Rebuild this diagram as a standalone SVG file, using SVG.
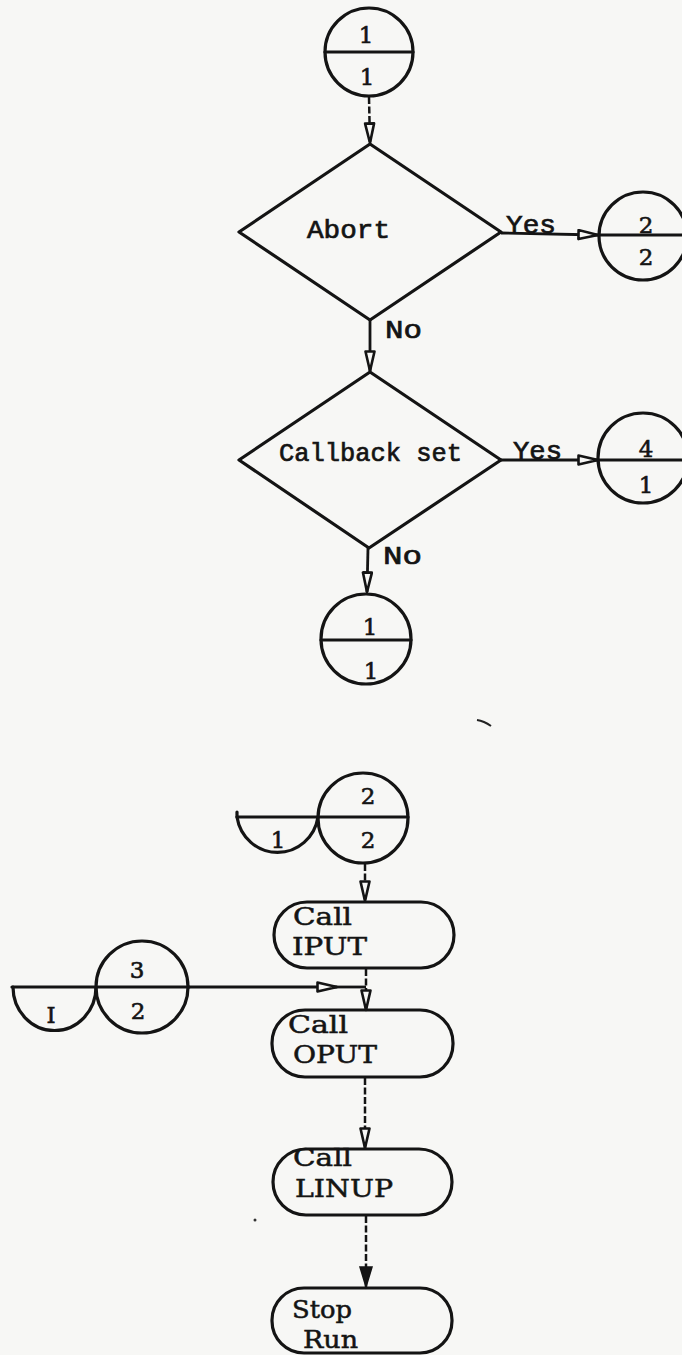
<svg xmlns="http://www.w3.org/2000/svg" width="682" height="1355" viewBox="0 0 682 1355">
  <style>
    .ink { fill: none; stroke: #141414; stroke-width: 3.2; stroke-linejoin: round; stroke-linecap: round; }
    .wire { fill: none; stroke: #141414; stroke-width: 2.8; }
    .dash { fill: none; stroke: #141414; stroke-width: 2.5; stroke-dasharray: 7 2.5; }
    .lbl { font-family: "Liberation Mono", "DejaVu Sans Mono", monospace; font-size: 26px; fill: #141414; stroke: #141414; stroke-width: 0.7; }
    .box { font-family: "DejaVu Serif", "Liberation Serif", serif; font-size: 24px; fill: #141414; stroke: #141414; stroke-width: 0.5; }
    .num { font-family: "DejaVu Serif", "Liberation Serif", serif; font-size: 23px; fill: #141414; text-anchor: middle; stroke: #141414; stroke-width: 0.6; }
  </style>
  <defs>
    <marker id="open" markerUnits="userSpaceOnUse" markerWidth="26" markerHeight="14" refX="21" refY="6" orient="auto">
      <path d="M1.5,1.5 L21,6 L1.5,10.5 Z" fill="#f7f7f5" stroke="#141414" stroke-width="2.6" stroke-linejoin="round"/>
    </marker>
    <marker id="solid" markerUnits="userSpaceOnUse" markerWidth="26" markerHeight="16" refX="21" refY="7" orient="auto">
      <path d="M1,1 L21,7 L1,13 Z" fill="#141414" stroke="#141414" stroke-width="1.5"/>
    </marker>
  </defs>

  <rect width="682" height="1355" fill="#f7f7f5"/>

  <!-- connectors -->
  <g id="connectors">
    <path class="dash" d="M369,97 L370,143" marker-end="url(#open)"/>
    <path class="wire" d="M370,320 L370,371" marker-end="url(#open)"/>
    <path class="wire" d="M501,233 L598,235" marker-end="url(#open)"/>
    <path class="wire" d="M501,460 L598,460" marker-end="url(#open)"/>
    <path class="wire" d="M368,548 L367,592" marker-end="url(#open)"/>
    <path class="dash" d="M365,864 L365,901" marker-end="url(#open)"/>
    <path class="wire" d="M188,987 L337,987" marker-end="url(#open)"/>
    <path class="wire" d="M337,987 L366,987"/>
    <path class="dash" d="M366,969 L366,1010" marker-end="url(#open)"/>
    <path class="dash" d="M365,1078 L365,1148" marker-end="url(#open)"/>
    <path class="dash" d="M366,1216 L366,1287" marker-end="url(#solid)"/>
  </g>

  <!-- off-page connector 1/1 at the top -->
  <g id="conn-top">
    <circle class="ink" cx="369" cy="52" r="44"/>
    <line class="ink" x1="325" y1="52" x2="413" y2="52"/>
    <text class="num" x="366" y="43">1</text>
    <text class="num" x="367" y="85">1</text>
  </g>

  <!-- decision: Abort -->
  <g id="dec-abort">
    <polygon class="ink" points="370,144 501,232 370,320 239,232"/>
    <text class="lbl" x="307" y="238" textLength="83" lengthAdjust="spacingAndGlyphs">Abort</text>
    <text class="lbl" x="506" y="233" textLength="50" lengthAdjust="spacingAndGlyphs">Yes</text>
    <text class="lbl" x="385" y="338" textLength="37" lengthAdjust="spacingAndGlyphs">No</text>
  </g>

  <!-- off-page connector 2/2 -->
  <g id="conn-abort">
    <circle class="ink" cx="643" cy="236" r="44"/>
    <line class="ink" x1="599" y1="235" x2="682" y2="235"/>
    <text class="num" x="646" y="233">2</text>
    <text class="num" x="646" y="265">2</text>
  </g>

  <!-- decision: Callback set -->
  <g id="dec-callback">
    <polygon class="ink" points="370,372 501,460 369,548 239,460"/>
    <text class="lbl" x="279" y="461" textLength="183" lengthAdjust="spacingAndGlyphs">Callback set</text>
    <text class="lbl" x="513" y="459" textLength="49" lengthAdjust="spacingAndGlyphs">Yes</text>
    <text class="lbl" x="383" y="564" textLength="39" lengthAdjust="spacingAndGlyphs">No</text>
  </g>

  <!-- off-page connector 4/1 -->
  <g id="conn-callback">
    <circle class="ink" cx="643" cy="458" r="45"/>
    <line class="ink" x1="598" y1="460" x2="682" y2="460"/>
    <text class="num" x="646" y="457">4</text>
    <text class="num" x="646" y="493">1</text>
  </g>

  <!-- on-page connector 1/1 -->
  <g id="conn-loop">
    <circle class="ink" cx="366" cy="639" r="45"/>
    <line class="ink" x1="321" y1="640" x2="411" y2="640"/>
    <text class="num" x="370" y="635">1</text>
    <text class="num" x="371" y="679">1</text>
  </g>

  <!-- entry connector 1 / 2 / 2 -->
  <g id="entry-2">
    <path class="ink" d="M237,812 L237,817 L408,817"/>
    <path class="ink" d="M237,817 A41,42 0 0 0 318,817"/>
    <circle class="ink" cx="363" cy="818" r="45"/>
    <text class="num" x="278" y="848">1</text>
    <text class="num" x="368" y="804">2</text>
    <text class="num" x="368" y="848">2</text>
  </g>

  <!-- terminal: Call IPUT -->
  <g id="call-iput">
    <rect class="ink" x="274" y="902" width="180" height="66" rx="33"/>
    <text class="box" x="293" y="925" textLength="59" lengthAdjust="spacingAndGlyphs">Call</text>
    <text class="box" x="292" y="955" textLength="75" lengthAdjust="spacingAndGlyphs">IPUT</text>
  </g>

  <!-- entry connector I / 3 / 2 -->
  <g id="entry-3">
    <path class="ink" d="M12,987 L189,987"/>
    <path class="ink" d="M13,987 A41,43 0 0 0 96,987"/>
    <circle class="ink" cx="142" cy="987" r="46"/>
    <text class="num" x="51" y="1023">I</text>
    <text class="num" x="137" y="978">3</text>
    <text class="num" x="138" y="1019">2</text>
  </g>

  <!-- terminal: Call OPUT -->
  <g id="call-oput">
    <rect class="ink" x="272" y="1010" width="181" height="67" rx="33"/>
    <text class="box" x="288" y="1033" textLength="60" lengthAdjust="spacingAndGlyphs">Call</text>
    <text class="box" x="293" y="1063" textLength="84" lengthAdjust="spacingAndGlyphs">OPUT</text>
  </g>

  <!-- terminal: Call LINUP -->
  <g id="call-linup">
    <rect class="ink" x="273" y="1149" width="179" height="66" rx="33"/>
    <text class="box" x="293" y="1166" textLength="59" lengthAdjust="spacingAndGlyphs">Call</text>
    <text class="box" x="295" y="1197" textLength="98" lengthAdjust="spacingAndGlyphs">LINUP</text>
  </g>

  <!-- terminal: Stop Run -->
  <g id="stop-run">
    <rect class="ink" x="272" y="1288" width="180" height="65" rx="32"/>
    <text class="box" x="292" y="1318" textLength="60" lengthAdjust="spacingAndGlyphs">Stop</text>
    <text class="box" x="303" y="1348" textLength="55" lengthAdjust="spacingAndGlyphs">Run</text>
  </g>

  <!-- stray marks on the sheet -->
  <path d="M477,720 Q484,721 491,726" fill="none" stroke="#222" stroke-width="2"/>
  <circle cx="255" cy="1220" r="1.5" fill="#333"/>
</svg>
